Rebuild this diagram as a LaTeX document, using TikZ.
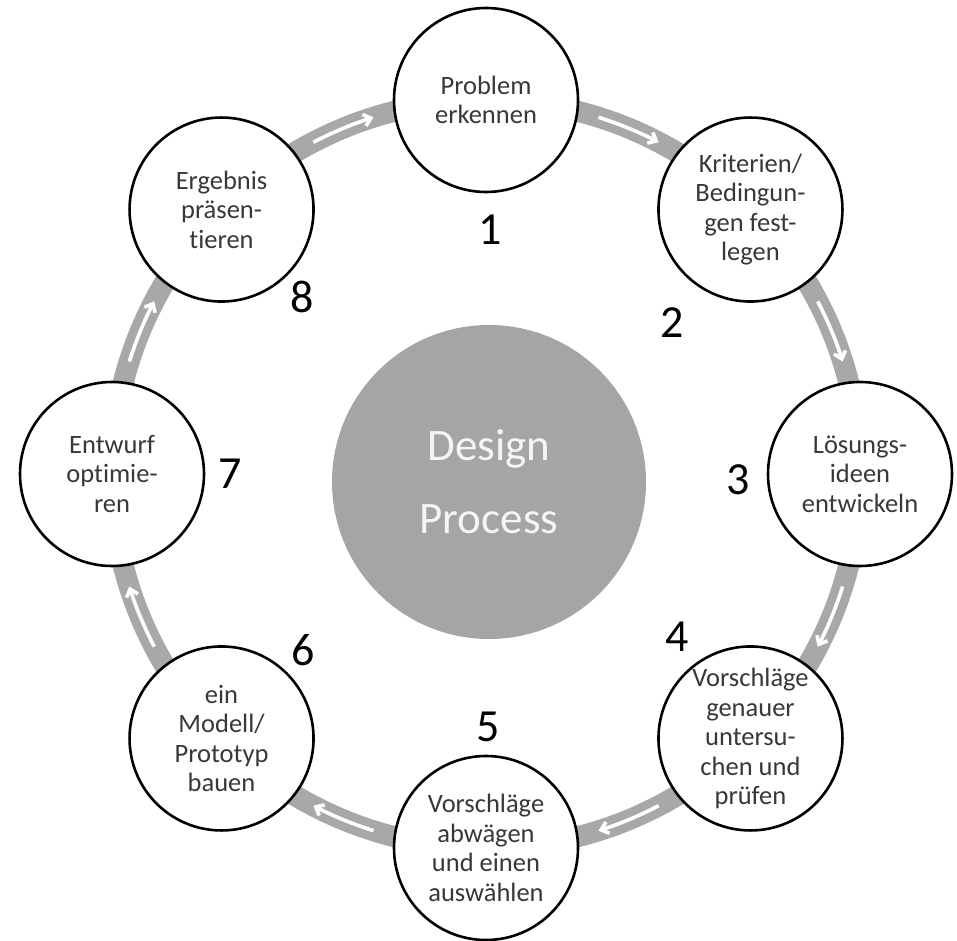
\documentclass[tikz,border=0pt]{standalone}
\usepackage{fontspec}
\setmainfont{Carlito}[Ligatures=NoCommon]
\usetikzlibrary{arrows.meta}

\definecolor{ringgray}{HTML}{A8A8A8}
\definecolor{discgray}{HTML}{A5A5A5}
\definecolor{textgray}{HTML}{383838}

\begin{document}
\begin{tikzpicture} [x=1pt, y=1pt,
            phase/.style={circle, draw=black, line width=2.6pt, fill=white,
                minimum size=184pt, inner sep=0pt, align=center,
                text=textgray, font=\fontsize{26.5}{29.5}\selectfont},
            number/.style={inner sep=0pt, text=black,
                font=\fontsize{46}{50}\selectfont},
            ring/.style={draw=ringgray, line width=21pt},
            flow/.style={draw=white, line width=3.6pt,
                -{Straight Barb[length=7pt, width=12pt]}}]

            \useasboundingbox (0,0) rectangle (957,940);
            \coordinate (O) at (486,466);

            % Ring
            \draw [ring] (O) circle (374);

            % Arrows on the ring
            \foreach \a in {117.5, 72.5, ..., -197.5}
                \draw [flow] (O) ++(\a:374)
                    arc [start angle=\a, end angle=\a-10, radius=374];

            % Centre disc
            \node (dp) [circle, fill=discgray, minimum size=314pt,
                inner sep=0pt, align=center, text=white!96!black,
                font=\fontsize{45}{73}\selectfont]
                at ([shift={(3,-8)}]O) {Design\\Process};

            % Phase 1
            \node (p1) [phase] at ([shift={(90:374)}]O) {Problem\\erkennen};

            % Phase 2
            \node (p2) [phase] at ([shift={(45:374)}]O)
                {Kriterien/\\Bedingun-\\gen fest-\\legen};

            % Phase 3
            \node (p3) [phase] at ([shift={(0:374)}]O)
                {Lösungs-\\ideen\\entwickeln};

            % Phase 4
            \node (p4) [phase] at ([shift={(-45:374)}]O)
                {Vorschläge\\genauer\\untersu-\\chen und\\prüfen};

            % Phase 5
            \node (p5) [phase] at ([shift={(-90:374)}]O)
                {Vorschläge\\abwägen\\und einen\\auswählen};

            % Phase 6
            \node (p6) [phase] at ([shift={(-135:374)}]O)
                {ein\\Modell/\\Prototyp\\bauen};

            % Phase 7
            \node (p7) [phase] at ([shift={(180:374)}]O)
                {Entwurf\\optimie-\\ren};

            % Phase 8
            \node (p8) [phase] at ([shift={(135:374)}]O)
                {Ergebnis\\präsen-\\tieren};

            % Numbers
            \node (n1) [number] at ([shift={(89:244)}]O) {1};
            \node (n2) [number] at ([shift={(39:240)}]O) {2};
            \node (n3) [number] at ([shift={(-1.4:252)}]O) {3};
            \node (n4) [number] at ([shift={(-40.5:251)}]O) {4};
            \node (n5) [number] at ([shift={(-89.5:253)}]O) {5};
            \node (n6) [number] at ([shift={(-136:254)}]O) {6};
            \node (n7) [number] at ([shift={(180:256)}]O) {7};
            \node (n8) [number] at ([shift={(136:255)}]O) {8};
        \end{tikzpicture}
\end{document}
